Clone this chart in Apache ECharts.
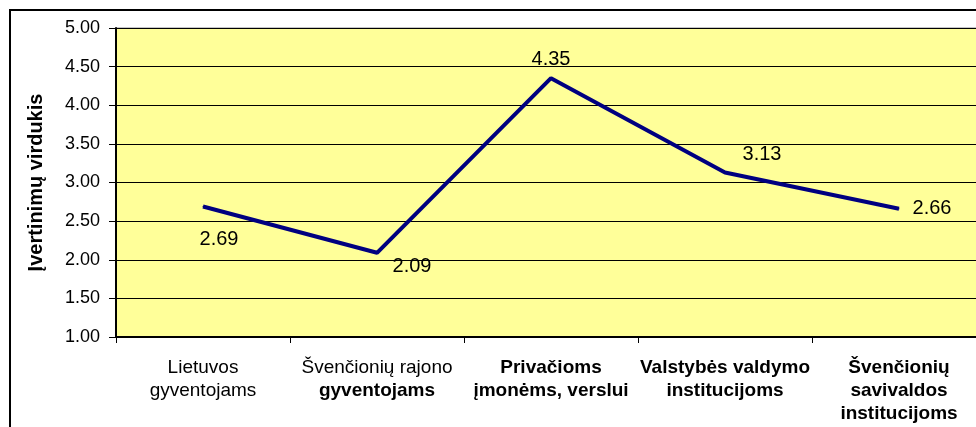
<!DOCTYPE html>
<html>
<head>
<meta charset="utf-8">
<script src="https://cdn.jsdelivr.net/npm/echarts@6/dist/echarts.min.js"></script>
<style>
  html, body { margin: 0; padding: 0; background: #fff; overflow: hidden; }
  /* the plot runs slightly past the right edge of the window */
  #chart { width: 986px; height: 427px; }
</style>
</head>
<body>
<div id="chart"></div>
<script>
// Categories (lines split with \n) and the average rating per category
const categories = [
  'Lietuvos\ngyventojams',
  'Švenčionių rajono\ngyventojams',
  'Privačioms\nįmonėms, verslui',
  'Valstybės valdymo\ninstitucijoms',
  'Švenčionių\nsavivaldos\ninstitucijoms'
];
const values = [2.69, 2.09, 4.35, 3.13, 2.66];
const yTicks = { min: 1, max: 5, step: 0.5 };
const yAxisTitle = 'Įvertinimų virdukis';

// From which line of each category label the text is bold
const boldFromLine = [99, 1, 0, 0, 0];
// Where each value label sits relative to its point (px)
const labelOffsets = [[16, 33], [35, 14], [0, -19], [37, -18], [33, 0]];

const FONT = '"Liberation Sans", Arial, sans-serif';

const chart = echarts.init(document.getElementById('chart'), null, { renderer: 'canvas' });

chart.setOption({
  animation: false,
  backgroundColor: '#ffffff',
  graphic: [{
    type: 'rect',
    shape: { x: 10, y: 10, width: 1000, height: 440 },
    style: { fill: 'none', stroke: '#000', lineWidth: 2 },
    z: 100
  }],
  grid: {
    left: 116, top: 28, right: 0, bottom: 90,
    show: true,
    backgroundColor: '#FFFF99',
    borderColor: '#8c8c8c',
    borderWidth: 1
  },
  xAxis: {
    type: 'category',
    data: categories,
    boundaryGap: true,
    axisLine: { lineStyle: { color: '#000', width: 2 } },
    axisTick: { show: true, length: 6, lineStyle: { color: '#000', width: 1 } },
    axisLabel: {
      interval: 0,
      margin: 19,
      color: '#000',
      fontFamily: FONT,
      fontSize: 19,
      lineHeight: 23,
      formatter: function (val) {
        const i = categories.indexOf(val);
        return val.split('\n').map(function (ln, k) {
          return (k >= boldFromLine[i] ? '{b|' : '{n|') + ln + '}';
        }).join('\n');
      },
      rich: {
        n: { fontFamily: FONT, fontSize: 19, lineHeight: 23, color: '#000' },
        b: { fontFamily: FONT, fontSize: 19, lineHeight: 23, color: '#000', fontWeight: 'bold' }
      }
    }
  },
  yAxis: {
    type: 'value',
    min: yTicks.min,
    max: yTicks.max,
    interval: yTicks.step,
    name: yAxisTitle,
    nameLocation: 'middle',
    nameGap: 70,
    nameRotate: 90,
    nameTextStyle: { fontFamily: FONT, fontSize: 20, fontWeight: 'bold', color: '#000' },
    axisLine: { show: true, lineStyle: { color: '#000', width: 2 } },
    axisTick: { show: true, length: 7, lineStyle: { color: '#000' } },
    axisLabel: {
      margin: 16,
      color: '#000',
      fontFamily: FONT,
      fontSize: 18,
      formatter: function (v) { return v.toFixed(2); }
    },
    splitLine: { show: true, lineStyle: { color: '#000', width: 1 } }
  },
  series: [{
    type: 'line',
    data: values.map(function (v, i) {
      return { value: v, label: { offset: labelOffsets[i] } };
    }),
    symbol: 'circle',
    symbolSize: 1,
    showSymbol: true,
    lineStyle: { color: '#000080', width: 4 },
    itemStyle: { color: '#000080' },
    label: {
      show: true,
      position: 'inside',
      align: 'center',
      verticalAlign: 'middle',
      color: '#000',
      fontFamily: FONT,
      fontSize: 20,
      formatter: function (p) { return p.value.toFixed(2); }
    },
    z: 5
  }]
});
</script>
</body>
</html>
